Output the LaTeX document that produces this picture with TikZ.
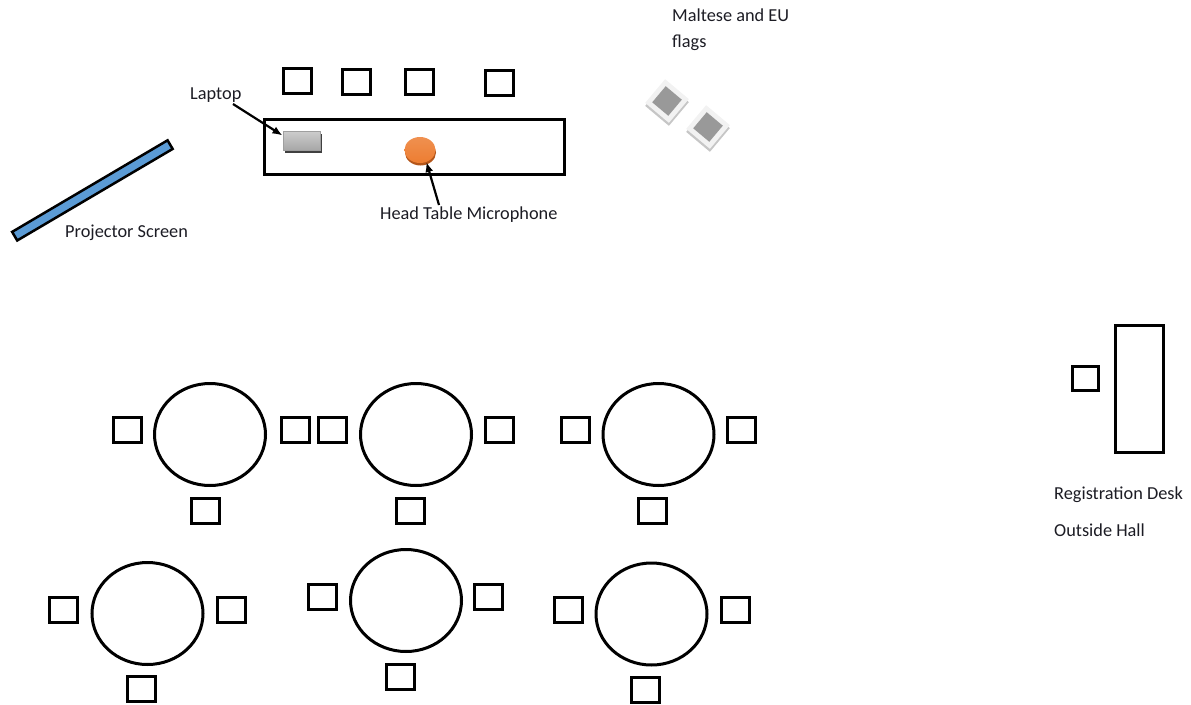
\documentclass[tikz,border=0pt]{standalone}
\usepackage{fontspec}
\setmainfont{Carlito}
\usetikzlibrary{arrows.meta,shapes.geometric,shadows}
\definecolor{screenblue}{HTML}{5B9BD5}
\definecolor{micorange}{HTML}{ED7D31}
\definecolor{micdark}{HTML}{B4561A}
\definecolor{txt}{HTML}{1C1C24}
\begin{document}
\begin{tikzpicture}[x=1pt,y=-1pt,
  chair/.style={draw, line width=3pt, minimum width=28pt, minimum height=25pt, inner sep=0},
  rtable/.style={draw, ellipse, line width=3pt, minimum width=111pt, minimum height=102pt, inner sep=0},
  desk/.style={draw, line width=3pt, inner sep=0},
  lbl/.style={font=\fontsize{18.3}{26}\selectfont, text=txt, inner sep=0, anchor=base west},
  arr/.style={draw, line width=2.2pt, -{Latex[length=10pt,width=8pt]}},
  laptopst/.style={rectangle, minimum width=37pt, minimum height=19pt, inner sep=0,
     top color=gray!40, bottom color=gray!70, draw=gray!75, line width=0.4pt,
     drop shadow={shadow xshift=1pt, shadow yshift=-2.5pt, fill=gray!50!black, opacity=1}},
  micst/.style={ellipse, minimum width=31pt, minimum height=26pt, inner sep=0,
     top color=micorange!85!white, bottom color=micorange, 
     drop shadow={shadow xshift=0.5pt, shadow yshift=-2.5pt, fill=micdark, opacity=1}},
  flagframe/.style={rectangle, minimum size=31pt, inner sep=0, rotate=50, fill=gray!10,
     drop shadow={shadow xshift=0pt, shadow yshift=-3pt, fill=gray!45, opacity=1}},
  flaginner/.style={rectangle, minimum size=21pt, inner sep=0, rotate=50, fill=gray!80},
]
\useasboundingbox (0,0) rectangle (1191,704);

% projector screen
\draw[line width=2.5pt, fill=screenblue, shift={(92.4,190.4)}, rotate=30.5]
  (-90.2,-5) rectangle (90.2,5);

% head table and chairs
\node[desk, minimum width=300pt, minimum height=55pt] (headtable) at (414.5,147) {};
\node[chair] (hc1) at (297,81) {};
\node[chair] (hc2) at (356,82) {};
\node[chair] (hc3) at (419,82) {};
\node[chair] (hc4) at (499.5,82.5) {};

% laptop and microphone
\node[laptopst] (laptop) at (302,141) {};
\node[micst] (mic) at (420,150) {};

% flags
\node[flagframe] (flag1) at (667,101) {};
\node[flaginner] (flag1in) at (667,101) {};
\node[flagframe] (flag2) at (708,127) {};
\node[flaginner] (flag2in) at (708,127) {};

% labels
\node[lbl] (laptoplbl) at (190,99) {Laptop};
\node[lbl] (screenlbl) at (65,237) {Projector Screen};
\node[lbl] (miclbl) at (380,219) {Head Table Microphone};
\node[lbl, align=left] (flaglbl) at (672,47) {Maltese and EU\\flags};
\node[lbl] (reglbl) at (1054,499) {Registration Desk};
\node[lbl] (outlbl) at (1054,536) {Outside Hall};

% arrows
\coordinate (lapA) at (233,104);
\coordinate (micA) at (439,205);
\draw[arr, shorten >=1pt] (lapA) -- (laptop.165);
\draw[arr] (micA) -- (mic.-62);

% round tables, row 1
\node[rtable] (t1) at (210,434.5) {};
\node[chair] (t1l) at (127.5,429.5) {};
\node[chair] (t1r) at (295,429.5) {};
\node[chair] (t1b) at (205,510.5) {};

\node[rtable] (t2) at (416,434.5) {};
\node[chair] (t2l) at (332.5,429.5) {};
\node[chair] (t2r) at (499.5,429.5) {};
\node[chair] (t2b) at (410,510.5) {};

\node[rtable] (t3) at (658.5,434.5) {};
\node[chair] (t3l) at (575,429.5) {};
\node[chair] (t3r) at (741.5,429.5) {};
\node[chair] (t3b) at (652.5,510.5) {};

% round tables, row 2
\node[rtable] (t4) at (147.5,613.5) {};
\node[chair] (t4l) at (63.5,609.5) {};
\node[chair] (t4r) at (231,609.5) {};
\node[chair] (t4b) at (141.5,689) {};

\node[rtable] (t5) at (406,600.5) {};
\node[chair] (t5l) at (322.5,596.5) {};
\node[chair] (t5r) at (488.5,596.5) {};
\node[chair] (t5b) at (400.5,676.5) {};

\node[rtable] (t6) at (651.5,614) {};
\node[chair] (t6l) at (568.5,609.5) {};
\node[chair] (t6r) at (735,609.5) {};
\node[chair] (t6b) at (645.5,689.5) {};

% registration desk
\node[desk, minimum width=48pt, minimum height=127pt] (regdesk) at (1139.5,389) {};
\node[chair, minimum width=26pt, minimum height=24pt] (regchair) at (1085.5,378.5) {};
\end{tikzpicture}
\end{document}
